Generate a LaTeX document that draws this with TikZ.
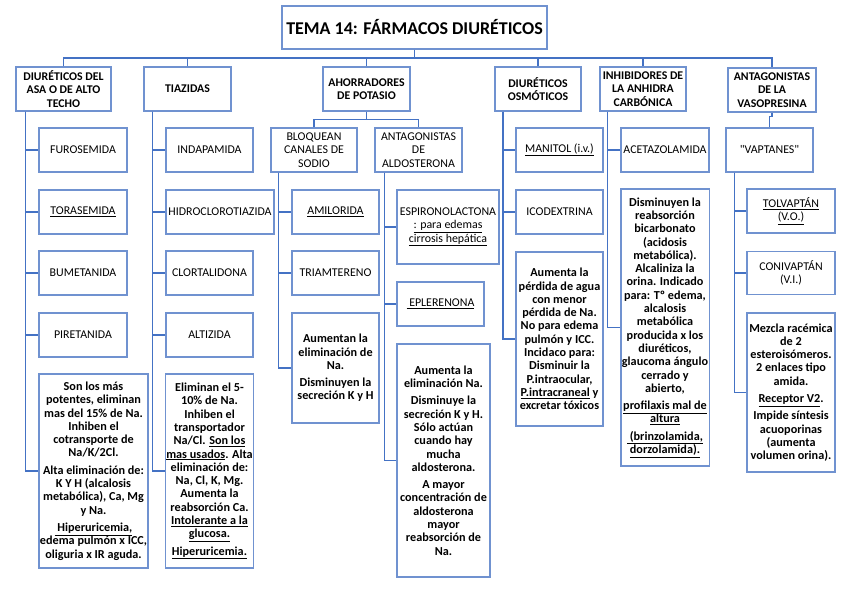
\documentclass[tikz,border=0pt]{standalone}
\usepackage{fontspec}
\setmainfont{Carlito}
\definecolor{connc}{HTML}{4472C4}
\definecolor{boxc}{HTML}{7092D0}
\tikzset{
  box/.style={draw=boxc, line width=1.1pt, fill=white, inner sep=1pt, align=center, anchor=center},
  hdr/.style={box, font=\fontsize{11.8}{13.3}\selectfont\bfseries},
  item/.style={box, font=\fontsize{11.9}{13.4}\selectfont},
  note/.style={box, font=\fontsize{12.2}{13.3}\selectfont\bfseries},
  ttl/.style={box, font=\fontsize{18}{20}\selectfont\bfseries},
  ln/.style={draw=connc, line width=1.2pt},
}
\begin{document}
\begin{tikzpicture}[x=1pt,y=-1pt]
\useasboundingbox (0,0) rectangle (848,599);
% title
\node[ttl, minimum width=265pt, minimum height=43pt] (title) at (414.5,27.5) {TEMA 14: FÁRMACOS DIURÉTICOS};
% headers
\node[hdr, minimum width=95pt, minimum height=44pt] (h1) at (63.5,89) {DIURÉTICOS DEL\\ASA O DE ALTO\\TECHO};
\node[hdr, minimum width=87pt, minimum height=44pt] (h2) at (187.5,89) {TIAZIDAS};
\node[hdr, minimum width=87pt, minimum height=44pt] (h3) at (366.5,89) {AHORRADORES\\DE POTASIO};
\node[hdr, minimum width=86pt, minimum height=44pt] (h4) at (538,89) {DIURÉTICOS\\OSMÓTICOS};
\node[hdr, minimum width=86pt, minimum height=44pt] (h5) at (643,89) {INHIBIDORES DE\\LA ANHIDRA\\CARBÓNICA};
\node[hdr, minimum width=88pt, minimum height=44pt] (h6) at (772,90) {ANTAGONISTAS\\DE LA\\VASOPRESINA};
% column 1
\node[item, minimum width=88pt, minimum height=44pt] (furo) at (83,150) {FUROSEMIDA};
\node[item, minimum width=88pt, minimum height=44pt] (tora) at (83,212) {\underline{TORASEMIDA}};
\node[item, minimum width=88pt, minimum height=44pt] (bume) at (83,273) {BUMETANIDA};
\node[item, minimum width=88pt, minimum height=44pt] (pire) at (83,335) {PIRETANIDA};
\node[note, minimum width=109pt, minimum height=194pt] (n1) at (93.5,471) {Son los más\\potentes, eliminan\\mas del 15\% de Na.\\Inhiben el\\cotransporte de\\Na/K/2Cl.\\[4pt]Alta eliminación de:\\K Y H (alcalosis\\metabólica), Ca, Mg\\y Na.\\[4pt]\underline{ Hiperuricemia,}\\edema pulmón x ICC,\\oliguria x IR aguda.};
% column 2
\node[item, minimum width=87pt, minimum height=44pt] (inda) at (209.5,150) {INDAPAMIDA};
\node[item, minimum width=108pt, minimum height=44pt] (hidro) at (220,212) {HIDROCLOROTIAZIDA};
\node[item, minimum width=87pt, minimum height=44pt] (clor) at (209.5,273) {CLORTALIDONA};
\node[item, minimum width=87pt, minimum height=44pt] (alti) at (209.5,335) {ALTIZIDA};
\node[note, minimum width=87pt, minimum height=194pt] (n2) at (209.5,471) {Eliminan el 5-\\10\% de Na.\\Inhiben el\\transportador\\Na/Cl. \underline{Son los}\\\underline{mas usados}. Alta\\eliminación de:\\Na, Cl, K, Mg.\\Aumenta la\\reabsorción Ca.\\\underline{Intolerante a la}\\\underline{glucosa.}\\[4pt]\underline{Hiperuricemia.}};
% column 3
\node[item, minimum width=86pt, minimum height=44pt] (bloq) at (314,150) {BLOQUEAN\\CANALES DE\\SODIO};
\node[item, minimum width=87pt, minimum height=44pt] (antal) at (418.5,150) {ANTAGONISTAS\\DE\\ALDOSTERONA};
\node[item, minimum width=87pt, minimum height=44pt] (amil) at (335.5,212) {\underline{AMILORIDA}};
\node[item, minimum width=87pt, minimum height=44pt] (tria) at (335.5,273) {TRIAMTERENO};
\node[note, minimum width=87pt, minimum height=110pt] (n3) at (335.5,368) {Aumentan la\\eliminación de\\Na.\\[4pt]Disminuyen la\\secreción K y H};
\node[item, minimum width=102pt, minimum height=74pt] (espi) at (448,227) {ESPIRONOLACTONA\\\underline{: para edemas}\\\underline{cirrosis hepática}};
\node[item, minimum width=87pt, minimum height=44pt] (eple) at (440.5,304) {\underline{ EPLERENONA}};
\node[note, minimum width=93pt, minimum height=233pt] (n3b) at (443.5,460.5) {Aumenta la\\eliminación Na.\\[4pt]Disminuye la\\secreción K y H.\\Sólo actúan\\cuando hay\\mucha\\aldosterona.\\[4pt]A mayor\\concentración de\\aldosterona\\mayor\\reabsorción de\\Na.};
% column 4
\node[item, minimum width=87pt, minimum height=44pt] (mani) at (559.5,150) {\underline{MANITOL (i.v.)}};
\node[item, minimum width=87pt, minimum height=44pt] (icod) at (559.5,212) {ICODEXTRINA};
\node[note, minimum width=87pt, minimum height=174pt] (n4) at (559.5,339) {Aumenta la\\pérdida de agua\\con menor\\pérdida de Na.\\No para edema\\pulmón y ICC.\\Incidaco para:\\Disminuir la\\P.intraocular,\\\underline{P.intracraneal} y\\excretar tóxicos};
% column 5
\node[item, minimum width=88pt, minimum height=44pt] (acet) at (665,150) {ACETAZOLAMIDA};
\node[note, minimum width=88pt, minimum height=277pt] (n5) at (665,327.5) {Disminuyen la\\reabsorción\\bicarbonato\\(acidosis\\metabólica).\\Alcaliniza la\\orina. Indicado\\para: Tº edema,\\alcalosis\\metabólica\\producida x los\\diuréticos,\\glaucoma ángulo\\cerrado y\\abierto,\\[4pt]\underline{profilaxis mal de}\\\underline{altura}\\[4pt]\underline{ (brinzolamida,}\\\underline{dorzolamida).}};
% column 6
\node[item, minimum width=87pt, minimum height=44pt] (vapt) at (769.5,150) {\addfontfeature{Ligatures=TeXOff}"VAPTANES"};
\node[item, minimum width=88pt, minimum height=44pt] (tolv) at (791,211) {\underline{TOLVAPTÁN}\\\underline{(V.O.)}};
\node[item, minimum width=88pt, minimum height=43pt] (coni) at (791,273) {CONIVAPTÁN\\(V.I.)};
\node[note, minimum width=88pt, minimum height=159pt] (n6) at (791,392.5) {Mezcla racémica\\de 2\\esteroisómeros.\\2 enlaces tipo\\amida.\\[4pt]\underline{Receptor V2}.\\[4pt]Impide síntesis\\acuoporinas\\(aumenta\\volumen orina).};
% ---------- connectors ----------
\coordinate (bus) at (0,58);
\draw[ln] (title.south) -- (title.south |- bus);
\draw[ln] (h1.north) |- (bus -| h6.north) -- (h6.north);
\foreach \h in {h2,h3,h4,h5} \draw[ln] (\h.north) -- (\h.north |- bus);
% column 1
\foreach \c in {furo,tora,bume,pire,n1} \draw[ln] ([xshift=10pt]h1.south west) |- (\c.west);
% column 2
\foreach \c in {inda,hidro,clor,alti,n2} \draw[ln] ([xshift=9pt]h2.south west) |- (\c.west);
% column 3
\draw[ln] (h3.south) -- ++(0,8) coordinate (h3b);
\draw[ln] (bloq.north) |- (h3b) -| (antal.north);
\foreach \c in {amil,tria,n3} \draw[ln] ([xshift=8pt]bloq.south west) |- (\c.west);
\foreach \c in {espi,eple,n3b} \draw[ln] ([xshift=10pt]antal.south west) |- (\c.west);
% column 4
\foreach \c in {mani,icod,n4} \draw[ln] ([xshift=8.5pt]h4.south west) |- (\c.west);
% column 5
\foreach \c in {acet,n5} \draw[ln] ([xshift=8pt]h5.south west) |- (\c.west);
% column 6
\draw[ln] (h6.south) -- ++(0,4) -| (vapt.north);
\foreach \c in {tolv,coni,n6} \draw[ln] ([xshift=9pt]vapt.south west) |- (\c.west);
\end{tikzpicture}
\end{document}
